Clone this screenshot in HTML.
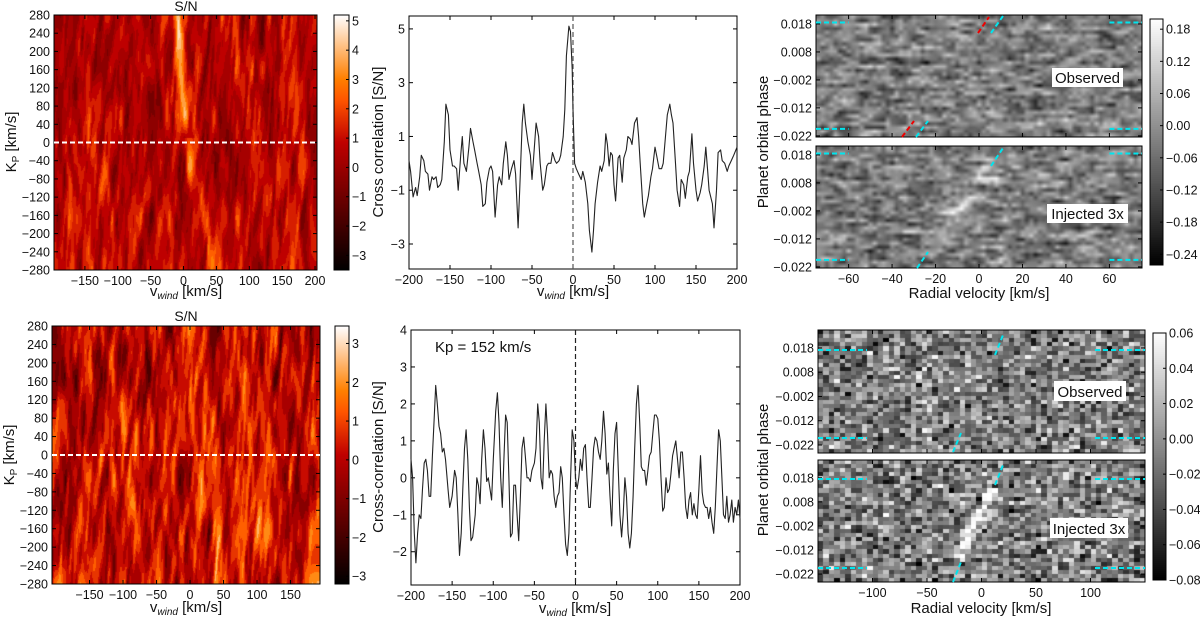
<!DOCTYPE html>
<html><head><meta charset="utf-8">
<style>
html,body{margin:0;padding:0;background:#fff;}
#wrap{position:relative;width:1200px;height:621px;overflow:hidden;background:#fff;}
canvas{position:absolute;}
svg{position:absolute;left:0;top:0;}
text{font-family:"Liberation Sans","DejaVu Sans",sans-serif;fill:#111;}
</style></head>
<body>
<div id="wrap">
<canvas id="c1" style="left:54px;top:15px" width="263" height="255"></canvas>
<canvas id="cb1" style="left:334px;top:15px" width="15" height="255"></canvas>
<canvas id="c4" style="left:52px;top:326px" width="268" height="258"></canvas>
<canvas id="cb4" style="left:335px;top:326px" width="14" height="258"></canvas>
<canvas id="g1" style="left:816px;top:15px" width="326" height="122"></canvas>
<canvas id="g2" style="left:816px;top:146px" width="326" height="122"></canvas>
<canvas id="cb3" style="left:1150px;top:19px" width="13" height="246"></canvas>
<canvas id="g3" style="left:818px;top:330px" width="327" height="123"></canvas>
<canvas id="g4" style="left:818px;top:460px" width="327" height="122"></canvas>
<canvas id="cb6" style="left:1153px;top:333px" width="13" height="247"></canvas>
<svg id="ov" width="1200" height="621"></svg>
</div>
<script>
// ---- chart data ----
const vTop = [-200,-198,-195,-192,-190,-187,-185,-182,-180,-177,-175,-172,-170,-167,-165,-162,-160,-157,-155,-152,-150,-147,-145,-142,-140,-137,-135,-133,-130,-127,-125,-122,-120,-117,-115,-112,-110,-107,-105,-102,-100,-98,-95,-92,-90,-87,-85,-82,-80,-78,-75,-72,-70,-67,-65,-62,-60,-58,-55,-52,-50,-48,-45,-42,-40,-37,-35,-32,-30,-27,-25,-22,-20,-17,-15,-12,-10,-8,-5,-3,-1,0,2,4,7,10,12,15,18,20,23,25,27,30,33,35,38,40,42,44,46,48,50,52,55,57,60,62,65,67,70,72,75,78,80,82,85,87,90,92,95,97,100,102,105,108,110,112,115,118,120,122,125,127,130,132,135,137,140,142,145,147,150,152,155,157,160,162,164,166,170,172,175,177,180,182,185,188,190,193,196,200];
const ccTop = [0.1,-0.3,-1.25,-0.9,-1.2,-0.5,0.3,0.1,-0.3,-0.4,-1.0,-0.5,-0.6,-0.5,-0.9,-0.8,-0.6,0.8,2.2,1.8,0.5,-0.1,-0.1,-0.2,-1.0,0.3,1.0,0.0,-0.3,0.6,1.3,0.8,0.5,0.0,-0.3,-0.8,-1.6,-1.5,-0.7,-0.2,-0.1,-0.3,-2.0,-0.8,-0.5,-0.8,0.0,0.8,0.3,-0.6,-0.2,0.1,-0.4,-2.4,-1.0,1.5,2.2,1.5,0.8,0.3,-0.6,0.2,1.5,1.0,0.0,-1.0,-0.8,-0.1,0.0,0.0,0.4,0.1,0.0,0.1,0.3,1.0,2.0,4.0,5.1,4.9,3.5,2.0,0.0,-0.2,-0.4,-0.6,-0.3,-0.7,-1.5,-2.5,-3.3,-2.5,-1.5,-0.7,-0.1,-0.3,0.1,1.1,0.7,-0.1,0.4,0.3,-0.8,-1.4,0.2,0.3,-0.7,0.2,0.5,1.0,0.9,0.7,1.5,1.7,1.0,0.0,-1.5,-2.0,-1.5,-1.2,-0.5,-0.2,0.6,0.3,-0.2,-0.2,0.0,0.7,1.8,2.2,1.8,1.5,0.0,-1.0,-1.6,-0.6,-0.8,-1.3,-0.5,-0.3,1.1,0.0,-1.0,-1.4,-1.1,-0.8,-0.1,0.6,-0.2,-1.0,-1.5,-2.4,-1.0,0.4,0.5,0.1,0.0,-0.3,-0.1,0.1,0.3,0.6];
const vBot = [-200,-198,-196,-194,-192,-190,-188,-186,-184,-182,-180,-178,-176,-174,-172,-170,-168,-166,-164,-162,-160,-158,-155,-153,-150,-147,-145,-143,-141,-139,-137,-135,-133,-131,-129,-127,-125,-122,-120,-118,-116,-114,-112,-110,-108,-106,-104,-102,-100,-97,-95,-93,-91,-89,-87,-85,-83,-81,-79,-77,-75,-73,-71,-69,-67,-65,-63,-61,-59,-57,-55,-53,-50,-48,-46,-44,-42,-40,-38,-36,-34,-32,-30,-28,-26,-24,-22,-20,-18,-16,-14,-12,-10,-8,-6,-4,-2,0,2,4,6,8,10,12,14,16,18,20,22,24,26,28,30,32,34,36,38,40,42,44,46,48,50,52,54,56,58,60,62,64,66,68,70,72,74,76,78,80,82,84,86,88,90,92,94,96,98,100,102,104,106,108,110,112,114,116,118,120,122,124,126,128,130,132,134,136,138,140,142,144,146,148,150,152,154,156,158,160,162,164,166,168,170,172,174,176,178,180,182,184,186,188,190,192,194,196,198,200];
const ccBot = [0.5,0.0,-1.5,-2.3,-1.5,-1.0,-1.1,-0.3,0.4,0.5,0.2,-0.5,-0.5,0.6,1.5,2.5,2.0,1.4,1.2,0.7,0.8,0.5,-0.3,-0.8,-0.5,0.2,0.0,-1.0,-2.1,-1.5,-0.3,0.8,1.3,0.5,-0.8,-1.7,-1.6,-1.0,0.0,-0.2,-0.7,0.5,1.3,0.8,-0.1,0.0,-0.3,-0.6,0.5,1.8,2.3,1.5,0.0,-0.8,0.5,1.7,1.5,0.0,-1.6,-1.5,-0.2,-0.2,-1.0,-1.7,-0.5,0.8,1.1,0.6,0.0,0.0,-0.1,0.2,0.4,0.8,2.0,1.5,0.0,-0.3,1.0,2.0,1.2,0.0,0.2,0.1,-0.5,-0.8,-0.5,-0.4,0.3,0.0,-1.0,-1.8,-2.1,-1.5,0.0,1.3,1.0,0.0,-0.3,0.0,0.5,0.2,0.8,0.9,0.0,-0.8,-0.8,0.0,0.8,1.1,1.0,0.7,0.5,1.0,1.8,1.2,0.1,0.4,-0.5,-1.3,0.2,1.2,1.5,0.2,-1.0,-1.6,-1.0,0.0,-0.5,-1.5,-1.9,-1.5,-0.5,0.8,2.0,2.5,1.5,0.3,0.2,0.2,-0.2,0.2,0.6,0.7,1.2,1.7,1.7,1.6,1.0,0.0,-0.9,-0.8,0.0,-0.4,-0.3,0.1,0.6,0.8,1.0,0.5,0.0,0.7,0.7,0.0,-0.8,-1.1,-0.6,-0.4,-1.0,-0.7,-1.0,-1.1,-0.3,0.6,-0.4,-0.7,-0.8,-0.8,-1.1,-0.8,-1.2,-1.5,-0.8,0.3,1.3,1.0,0.0,-1.0,-1.1,-0.5,-1.2,-1.0,-0.6,-1.2,-0.8,-1.0,-0.6,-1.1];
const kpTicks = [280,240,200,160,120,80,40,0,-40,-80,-120,-160,-200,-240,-280];
const vTicksMap = [-150,-100,-50,0,50,100,150,200];
const vTicksLine = [-200,-150,-100,-50,0,50,100,150,200];
const ccTicksTop = [5,3,1,-1,-3];
const ccTicksBot = [4,3,2,1,0,-1,-2];
const phaseTicks = [0.018,0.008,-0.002,-0.012,-0.022];
const rvTicksTop = [-60,-40,-20,0,20,40,60];
const rvTicksBot = [-100,-50,0,50,100];
const cbTicks1 = [5,4,3,2,1,0,-1,-2,-3];
const cbTicks4 = [3,2,1,0,-1,-2,-3];
const cbTicks3 = [0.18,0.12,0.06,0.00,-0.06,-0.12,-0.18,-0.24];
const cbTicks6 = [0.06,0.04,0.02,0.00,-0.02,-0.04,-0.06,-0.08];

const NS='http://www.w3.org/2000/svg';
const ov=document.getElementById('ov');
const FS=12.5;
function mk(tag,attrs,parent){const e=document.createElementNS(NS,tag);for(const k in attrs)e.setAttribute(k,attrs[k]);(parent||ov).appendChild(e);return e;}
function fmt(v,d){const s=Math.abs(v).toFixed(d);return (v<0?'\u2212':'')+s;}
function sx(b,d,v){return b.x0+(v-d[0])/(d[1]-d[0])*(b.x1-b.x0);}
function sy(b,d,v){return b.y1-(v-d[0])/(d[1]-d[0])*(b.y1-b.y0);}

function frame(b,name){
  const r=mk('rect',{x:b.x0,y:b.y0,width:b.x1-b.x0,height:b.y1-b.y0,fill:'none',stroke:'#000','stroke-width':1});
  
  
}
function xTicks(b,d,ticks,dec,labels,name,both){
  ticks.forEach(t=>{const x=sx(b,d,t);
    const l=mk('line',{x1:x,x2:x,y1:b.y1,y2:b.y1-4,stroke:'#000','stroke-width':1});
    
    
    if(both){const l2=mk('line',{x1:x,x2:x,y1:b.y0,y2:b.y0+4,stroke:'#000','stroke-width':1});
      
      }
    if(labels){const tx=mk('text',{x:x,y:b.y1+15,'font-size':FS,'text-anchor':'middle'});tx.textContent=fmt(t,dec);
      
      }
  });
}
function yTicks(b,d,ticks,dec,name,both){
  ticks.forEach(t=>{const y=sy(b,d,t);
    const l=mk('line',{x1:b.x0,x2:b.x0+4,y1:y,y2:y,stroke:'#000','stroke-width':1});
    
    
    if(both){const l2=mk('line',{x1:b.x1,x2:b.x1-4,y1:y,y2:y,stroke:'#000','stroke-width':1});
      
      }
    const tx=mk('text',{x:b.x0-4,y:y+4.5,'font-size':FS,'text-anchor':'end'});tx.textContent=fmt(t,dec);
    
    
  });
}
function label(x,y,txt,rot,name,size){
  const t=mk('text',{x:x,y:y,'font-size':size||15,'text-anchor':'middle',transform:rot?`rotate(-90 ${x} ${y})`:''});
  t.innerHTML=txt;
  
  
}
function cbar(b,d,ticks,dec,name){
  frame(b,name+'-frame');
  ticks.forEach(t=>{const y=sy(b,d,t);
    const l=mk('line',{x1:b.x1,x2:b.x1-3,y1:y,y2:y,stroke:'#000'});
    
    
    const tx=mk('text',{x:b.x1+3,y:y+4.5,'font-size':FS});tx.textContent=fmt(t,dec);
    
    
  });
}
function lineChart(b,xd,yd,xs,ys,name){
  const pts=xs.map((x,i)=>sx(b,xd,x).toFixed(1)+','+sy(b,yd,ys[i]).toFixed(1)).join(' ');
  const p=mk('polyline',{points:pts,fill:'none',stroke:'#222','stroke-width':1.1,'stroke-linejoin':'round'});
  
  
}
function dash(x1,y1,x2,y2,col,name,w){
  const l=mk('line',{x1,y1,x2,y2,stroke:col,'stroke-width':w||2,'stroke-dasharray':'5,3'});
  
  
}
function box(x0,y0,x1,y1,txt,name){
  const r=mk('rect',{x:x0,y:y0,width:x1-x0,height:y1-y0,fill:'#fff'});
  
  
  const t=mk('text',{x:(x0+x1)/2,y:y1-4,'font-size':15,'text-anchor':'middle'});t.textContent=txt;
  
  
}

// ---- textures ----
function rng(seed){let s=seed>>>0;return ()=>{s=(s*1664525+1013904223)>>>0;return s/4294967296;};}
function field(cols,rows,seed){const r=rng(seed);const g=[];for(let i=0;i<(rows+2)*(cols+2);i++)g.push(r()*2-1);
  return (u,v)=>{u=Math.max(0,Math.min(cols,u));v=Math.max(0,Math.min(rows,v));const i=Math.floor(u),j=Math.floor(v);let fu=u-i,fv=v-j;fu=fu*fu*(3-2*fu);fv=fv*fv*(3-2*fv);
    const a=g[j*(cols+2)+i],bb=g[j*(cols+2)+i+1],c=g[(j+1)*(cols+2)+i],dd=g[(j+1)*(cols+2)+i+1];
    return a*(1-fu)*(1-fv)+bb*fu*(1-fv)+c*(1-fu)*fv+dd*fu*fv;};}
function heat(t){t=Math.max(0,Math.min(1,t));return [Math.min(1,1.5*t)*255,Math.max(0,Math.min(1,2*t-1))*255,Math.max(0,Math.min(1,4*t-3))*255];}

function kpMap(id,seed,lo,hi,mean,amp,streak){
  const c=document.getElementById(id),ctx=c.getContext('2d'),w=c.width,h=c.height;
  const f1=field(50,5,seed),f2=field(110,10,seed+7),f3=field(50,5,seed+13);
  const img=ctx.createImageData(w,h);
  for(let y=0;y<h;y++)for(let x=0;x<w;x++){
    const sl=0.12*(y-h/2);
    let v=0.7*f1((x+sl)/w*50,y/h*5)+0.55*f3((x-sl)/w*50,y/h*5)+0.55*f2((x+sl*0.5)/w*110,y/h*10);
    v=mean+amp*v;
    if(streak)v+=streak(x,y);
    v=Math.floor(v/0.55)*0.55+0.27;
    const col=heat((v-lo)/(hi-lo));const k=(y*w+x)*4;
    img.data[k]=col[0];img.data[k+1]=col[1];img.data[k+2]=col[2];img.data[k+3]=255;}
  ctx.putImageData(img,0,0);
}
function cbHeat(id){const c=document.getElementById(id),ctx=c.getContext('2d');
  for(let y=0;y<c.height;y++){const col=heat(1-y/c.height);ctx.fillStyle=`rgb(${col[0]|0},${col[1]|0},${col[2]|0})`;ctx.fillRect(0,y,c.width,1);}}
function cbGray(id){const c=document.getElementById(id),ctx=c.getContext('2d');
  for(let y=0;y<c.height;y++){const g=255*(1-y/c.height)|0;ctx.fillStyle=`rgb(${g},${g},${g})`;ctx.fillRect(0,y,c.width,1);}}
function grayMap(id,seed,cols,rows,smooth,std,inj){
  const c=document.getElementById(id),ctx=c.getContext('2d'),w=c.width,h=c.height;
  const small=document.createElement('canvas');small.width=cols;small.height=rows;
  const sc=small.getContext('2d');const img=sc.createImageData(cols,rows);const r=rng(seed);
  let prev=0;
  for(let j=0;j<rows;j++){for(let i=0;i<cols;i++){
    let n=(r()+r()+r()-1.5)*2; prev=smooth?0.5*prev+0.5*n:n;
    let g=125+std*prev;
    if(inj)g+=inj((i+0.5)/cols*w,(j+0.5)/rows*h);
    g=Math.max(0,Math.min(255,g));const k=(j*cols+i)*4;
    img.data[k]=img.data[k+1]=img.data[k+2]=g;img.data[k+3]=255;}}
  sc.putImageData(img,0,0);
  ctx.imageSmoothingEnabled=smooth;ctx.drawImage(small,0,0,w,h);
}

// ---- panel 1 (Kp map top) ----
const B1={x0:54,y0:15,x1:317,y1:270},X1=[-197,203],Y1=[-280,280];
kpMap('c1',11,-3.5,5.2,0.6,1.5,(x,y)=>{const kp=280-y/255*560;const v=-197+x/263*400;
  let s=0;if(kp>10){const vc=4-kp*0.05;s=3.4*Math.exp(-((v-vc)**2)/45)*Math.min(1,(kp-10)/50);}
  else{const vc=8-kp*0.14;s=1.3*Math.exp(-((v-vc)**2)/90);}return s;});
frame(B1,'kp-map-top-frame');
xTicks(B1,X1,vTicksMap,0,true,'kp-top-x',true);
yTicks(B1,Y1,kpTicks,0,'kp-top-y',true);
dash(B1.x0,sy(B1,Y1,0),B1.x1,sy(B1,Y1,0),'#fff','kp-zero-line-top',2);
label(186,11,'S/N',false,'kp-map-top-title',14);
label(186,296,'v<tspan font-size="10" dy="3" font-style="italic">wind</tspan><tspan dy="-3"> [km/s]</tspan>',false,'kp-top-x-title');
label(16,142,'K<tspan font-size="10" dy="3">P</tspan><tspan dy="-3"> [km/s]</tspan>',true,'kp-top-y-title');
cbHeat('cb1');
cbar({x0:334,y0:15,x1:349,y1:270},[-3.5,5.2],cbTicks1,0,'colorbar-top-left');

// ---- panel 2 (line top) ----
const B2={x0:409,y0:16,x1:737,y1:269},X2=[-200,200],Y2=[-3.93,5.48];
frame(B2,'cc-top-frame');
xTicks(B2,X2,vTicksLine,0,true,'cc-top-x',true);
yTicks(B2,Y2,ccTicksTop,0,'cc-top-y',true);
dash(sx(B2,X2,0),B2.y0,sx(B2,X2,0),B2.y1,'#555','cc-top-zero-line',1.2);
lineChart(B2,X2,Y2,vTop,ccTop,'cc-top-line');
label(573,296,'v<tspan font-size="10" dy="3" font-style="italic">wind</tspan><tspan dy="-3"> [km/s]</tspan>',false,'cc-top-x-title');
label(383,142,'Cross correlation [S/N]',true,'cc-top-y-title');

// ---- panel 3 (gray top) ----
const B3a={x0:816,y0:15,x1:1142,y1:137},B3b={x0:816,y0:146,x1:1142,y1:268},X3=[-75,75],Y3=[-0.0224,0.0212];
grayMap('g1',5,75,32,true,60,null);
grayMap('g2',9,75,32,true,60,(x,y)=>{const ph=0.0212-y/122*0.0436;const rv=-75+x/326*150;const rc=-8+ph*800;return 50*Math.exp(-((rv-rc)**2)/25)*(Math.abs(ph)<0.017?1:0);});
[B3a,B3b].forEach((b,i)=>{frame(b,'phase-map-top-'+(i?'injected':'observed')+'-frame');
  xTicks(b,X3,rvTicksTop,0,i===1,'phase-top-x'+i,true);
  yTicks(b,Y3,phaseTicks,3,'phase-top-y'+i,true);
  const yA=sy(b,Y3,0.0185),yB=sy(b,Y3,-0.0195);
  dash(b.x0,yA,sx(b,X3,-60),yA,'#00e5ee','cyan-limit',2);dash(sx(b,X3,60),yA,b.x1,yA,'#00e5ee','cyan-limit',2);
  dash(b.x0,yB,sx(b,X3,-60),yB,'#00e5ee','cyan-limit',2);dash(sx(b,X3,60),yB,b.x1,yB,'#00e5ee','cyan-limit',2);});
dash(978,33,989,17,'#e00','red-trail',2);dash(991,33,1003,16,'#00e5ee','cyan-trail',2);
dash(902,137,914,121,'#e00','red-trail',2);dash(916,137,928,121,'#00e5ee','cyan-trail',2);
dash(991,166,1003,148,'#00e5ee','cyan-trail',2);dash(917,268,928,252,'#00e5ee','cyan-trail',2);
box(1052,68,1123,87,'Observed','observed-label-top');
box(1047,204,1128,223,'Injected 3x','injected-label-top');
label(979,298,'Radial velocity [km/s]',false,'phase-top-x-title');
label(768,142,'Planet orbital phase',true,'phase-top-y-title');
cbGray('cb3');
cbar({x0:1150,y0:19,x1:1163,y1:265},[-0.26,0.199],cbTicks3,2,'colorbar-top-right');

// ---- panel 4 (Kp map bottom) ----
const B4={x0:52,y0:326,x1:320,y1:584},X4=[-206,194],Y4=[-280,280];
kpMap('c4',23,-3.2,3.45,0.25,1.6,null);
frame(B4,'kp-map-bottom-frame');
xTicks(B4,X4,vTicksMap.filter(v=>v<200),0,true,'kp-bot-x',true);
yTicks(B4,Y4,kpTicks,0,'kp-bot-y',true);
dash(B4.x0,sy(B4,Y4,0),B4.x1,sy(B4,Y4,0),'#fff','kp-zero-line-bottom',2);
label(186,321,'S/N',false,'kp-map-bottom-title',14);
label(186,612,'v<tspan font-size="10" dy="3" font-style="italic">wind</tspan><tspan dy="-3"> [km/s]</tspan>',false,'kp-bot-x-title');
label(14,455,'K<tspan font-size="10" dy="3">P</tspan><tspan dy="-3"> [km/s]</tspan>',true,'kp-bot-y-title');
cbHeat('cb4');
cbar({x0:335,y0:326,x1:349,y1:584},[-3.2,3.45],cbTicks4,0,'colorbar-bottom-left');

// ---- panel 5 (line bottom) ----
const B5={x0:411,y0:330,x1:740,y1:585},X5=[-200,200],Y5=[-2.9,4];
frame(B5,'cc-bottom-frame');
xTicks(B5,X5,vTicksLine,0,true,'cc-bot-x',true);
yTicks(B5,Y5,ccTicksBot,0,'cc-bot-y',true);
dash(sx(B5,X5,0),B5.y0,sx(B5,X5,0),B5.y1,'#222','cc-bot-zero-line',1.2);
lineChart(B5,X5,Y5,vBot,ccBot,'cc-bottom-line');
const kpt=mk('text',{x:435,y:352,'font-size':15});kpt.textContent='Kp = 152 km/s';


label(575,613,'v<tspan font-size="10" dy="3" font-style="italic">wind</tspan><tspan dy="-3"> [km/s]</tspan>',false,'cc-bot-x-title');
label(383,457,'Cross-correlation [S/N]',true,'cc-bot-y-title');

// ---- panel 6 (gray bottom) ----
const B6a={x0:818,y0:330,x1:1145,y1:453},B6b={x0:818,y0:460,x1:1145,y1:582},X6=[-150,150],Y6=[-0.0253,0.0254];
grayMap('g3',31,60,30,false,48,null);
grayMap('g4',41,60,30,false,48,(x,y)=>{const ph=0.0254-y/122*0.0507;const rv=-150+x/327*300;const rc=-4+ph*1150;return 150*Math.exp(-((rv-rc)**2)/30)*(ph>-0.016&&ph<0.014?1:0);});
[B6a,B6b].forEach((b,i)=>{frame(b,'phase-map-bottom-'+(i?'injected':'observed')+'-frame');
  xTicks(b,X6,rvTicksBot,0,i===1,'phase-bot-x'+i,true);
  yTicks(b,Y6,phaseTicks,3,'phase-bot-y'+i,true);});
dash(818,350,867,350,'#00e5ee','cyan-limit',2);dash(1095,350,1145,350,'#00e5ee','cyan-limit',2);
dash(818,438,867,438,'#00e5ee','cyan-limit',2);dash(1095,438,1145,438,'#00e5ee','cyan-limit',2);
dash(818,479,867,479,'#00e5ee','cyan-limit',2);dash(1095,479,1145,479,'#00e5ee','cyan-limit',2);
dash(818,568,867,568,'#00e5ee','cyan-limit',2);dash(1095,568,1145,568,'#00e5ee','cyan-limit',2);
dash(995,355,1003,335,'#00e5ee','cyan-trail',2);dash(953,452,961,433,'#00e5ee','cyan-trail',2);
dash(995,485,1003,465,'#00e5ee','cyan-trail',2);dash(953,582,961,562,'#00e5ee','cyan-trail',2);
box(1054,381,1126,401,'Observed','observed-label-bottom');
box(1050,518,1128,538,'Injected 3x','injected-label-bottom');
label(981,613,'Radial velocity [km/s]',false,'phase-bot-x-title');
label(768,470,'Planet orbital phase',true,'phase-bot-y-title');
cbGray('cb6');
cbar({x0:1153,y0:333,x1:1166,y1:580},[-0.08,0.06],cbTicks6,2,'colorbar-bottom-right');
</script>
</body></html>
